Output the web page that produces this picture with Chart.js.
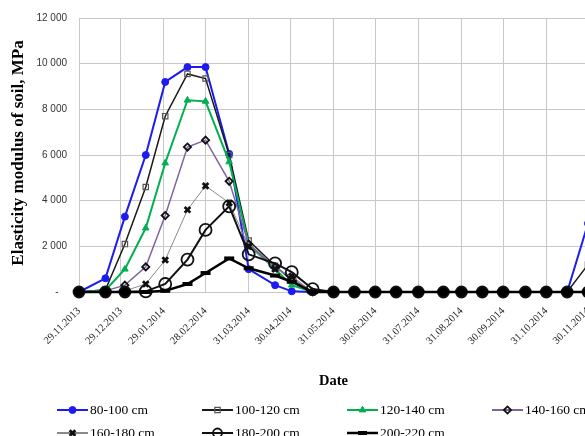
<!DOCTYPE html>
<html>
<head>
<meta charset="utf-8">
<script src="https://cdn.jsdelivr.net/npm/chart.js@4.4.1/dist/chart.umd.min.js"></script>
<style>
  html, body { margin: 0; padding: 0; background: #fff; overflow: hidden; width: 585px; height: 436px; }
  #wrap { position: relative; width: 600px; height: 436px; }
</style>
</head>
<body>
<div id="wrap"><canvas id="chart" width="600" height="436"></canvas></div>
<script>
// Sampling dates of the soil elasticity measurements
const sampleDates = [
  '29.11.2013', '18.12.2013', '01.01.2014', '16.01.2014', '30.01.2014',
  '15.02.2014', '28.02.2014', '17.03.2014', '31.03.2014', '19.04.2014',
  '01.05.2014', '16.05.2014', '31.05.2014', '15.06.2014', '30.06.2014',
  '15.07.2014', '31.07.2014', '18.08.2014', '31.08.2014', '15.09.2014',
  '30.09.2014', '16.10.2014', '31.10.2014', '15.11.2014', '30.11.2014'
];

// Date axis tick labels
const tickLabels = [
  '29.11.2013', '29.12.2013', '29.01.2014', '28.02.2014', '31.03.2014',
  '30.04.2014', '31.05.2014', '30.06.2014', '31.07.2014', '31.08.2014',
  '30.09.2014', '31.10.2014', '30.11.2014'
];

// Elasticity modulus, MPa, per depth layer
const depth80_100  = [0, 600, 3300, 6000, 9200, 9850, 9850, 6050, 1000, 300, 30, 0, 0, 0, 0, 0, 0, 0, 0, 0, 0, 0, 0, 0, 3000];
const depth100_120 = [0, 100, 2100, 4600, 7700, 9550, 9350, 6000, 2250, 1150, 500, 0, 0, 0, 0, 0, 0, 0, 0, 0, 0, 0, 0, 0, 1200];
const depth120_140 = [0, 80, 1000, 2800, 5650, 8400, 8350, 5700, 2100, 1000, 300, 0, 0, 0, 0, 0, 0, 0, 0, 0, 0, 0, 0, 0, 0];
const depth140_160 = [0, 50, 300, 1100, 3350, 6350, 6650, 4850, 2100, 1100, 600, 0, 0, 0, 0, 0, 0, 0, 0, 0, 0, 0, 0, 0, 0];
const depth160_180 = [0, 0, 50, 350, 1400, 3600, 4650, 3900, 2000, 1000, 700, 0, 0, 0, 0, 0, 0, 0, 0, 0, 0, 0, 0, 0, 0];
const depth180_200 = [0, 0, 0, 30, 350, 1420, 2720, 3750, 1650, 1250, 870, 130, 0, 0, 0, 0, 0, 0, 0, 0, 0, 0, 0, 0, 0];
const depth200_220 = [0, 0, 0, 0, 50, 350, 830, 1470, 1040, 720, 450, 0, 0, 0, 0, 0, 0, 0, 0, 0, 0, 0, 0, 0, 0];

const seriesLabels = ['80-100 cm', '100-120 cm', '120-140 cm', '140-160 cm', '160-180 cm', '180-200 cm', '200-220 cm'];
const seriesValues = [depth80_100, depth100_120, depth120_140, depth140_160, depth160_180, depth180_200, depth200_220];

// Days elapsed since the first sampling date
function dayNo(s) {
  const [d, m, y] = s.split('.').map(Number);
  return Math.round((Date.UTC(y, m - 1, d) - Date.UTC(2013, 10, 29)) / 86400000);
}
const sampleDays = sampleDates.map(dayNo);
const tickDays = tickLabels.map(dayNo);

// Line and marker look of each depth layer
const looks = [
  { color: '#1c1cf0', width: 2,   style: 'circle',   radius: 3.5, pbw: 1,   fill: '#1c1cf0', pcolor: '#1c1cf0' },
  { color: '#1a1a1a', width: 1.5, style: 'rect',     radius: 3.8, pbw: 1.2, fill: 'rgba(0,0,0,0)', pcolor: '#555555' },
  { color: '#00b050', width: 2,   style: 'triangle', radius: 3.8, pbw: 1,   fill: '#00b050', pcolor: '#00b050' },
  { color: '#8064a2', width: 1.5, style: 'rectRot',  radius: 3.6, pbw: 1.8, fill: 'rgba(0,0,0,0)', pcolor: '#111111' },
  { color: '#8a8a8a', width: 1,   style: 'crossRot', radius: 4,   pbw: 2.8, fill: '#111111', pcolor: '#111111' },
  { color: '#111111', width: 2,   style: 'circle',   radius: 6,   pbw: 1.8, fill: 'rgba(0,0,0,0)', pcolor: '#111111' },
  { color: '#000000', width: 2.5, style: 'line',     radius: 5,   pbw: 4,   fill: '#000000', pcolor: '#000000' }
];

const datasets = seriesValues.map((vals, i) => {
  const lk = looks[i];
  const ringed = lk.style === 'circle' && lk.radius > 5;
  return {
    label: seriesLabels[i],
    data: vals.map((v, k) => ({ x: sampleDays[k], y: v })),
    borderColor: lk.color,
    backgroundColor: lk.color,
    borderWidth: lk.width,
    pointStyle: lk.style,
    pointRadius: ringed ? (c) => (c.raw && c.raw.y === 0 ? 5.5 : lk.radius) : lk.radius,
    pointBorderWidth: lk.pbw,
    // stacked zero-level markers merge into a solid dark dot
    pointBackgroundColor: ringed ? (c) => (c.raw && c.raw.y === 0 ? '#000' : lk.fill) : lk.fill,
    pointBorderColor: lk.pcolor,
    tension: 0,
    clip: false,
    order: seriesValues.length - i
  };
});

const yTitle = 'Elasticity modulus of soil, MPa';

// Axis titles and the two-row legend drawn under the plot
const captionPlugin = {
  id: 'captions',
  afterDraw(chart) {
    const ctx = chart.ctx;
    const area = chart.chartArea;
    ctx.save();
    ctx.fillStyle = '#000';
    ctx.textAlign = 'center';
    ctx.textBaseline = 'middle';
    ctx.font = 'bold 14.5px "Liberation Serif"';
    ctx.fillText('Date', (area.left + area.right) / 2, 381);
    ctx.font = 'bold 17px "Liberation Serif"';
    ctx.translate(19, 153);
    ctx.rotate(-Math.PI / 2);
    ctx.fillText(yTitle, 0, 0);
    ctx.restore();

    ctx.save();
    ctx.font = '13.5px "Liberation Serif"';
    ctx.textBaseline = 'middle';
    ctx.textAlign = 'left';
    chart.data.datasets.forEach((ds, i) => {
      const lk = looks[i];
      const col = i % 4, row = Math.floor(i / 4);
      const x = 57 + col * 145;
      const y = 410 + row * 23;
      ctx.strokeStyle = lk.color;
      ctx.lineWidth = Math.max(lk.width, 2);
      ctx.beginPath();
      ctx.moveTo(x, y);
      ctx.lineTo(x + 31, y);
      ctx.stroke();
      ctx.strokeStyle = lk.pcolor;
      ctx.fillStyle = lk.fill;
      ctx.lineWidth = lk.pbw;
      Chart.helpers.drawPoint(ctx, {
        pointStyle: lk.style,
        radius: Math.min(lk.radius, 4.5),
        borderWidth: lk.pbw,
        rotation: 0
      }, x + 15.5, y);
      ctx.fillStyle = '#000';
      ctx.fillText(ds.label, x + 33, y);
    });
    ctx.restore();
  }
};

function thousands(v) {
  return String(v).replace(/\B(?=(\d{3})+(?!\d))/g, ' ');
}

new Chart(document.getElementById('chart'), {
  type: 'line',
  data: { datasets },
  plugins: [captionPlugin],
  options: {
    responsive: false,
    animation: false,
    layout: { padding: { top: 15, right: 12, bottom: 50, left: 0 } },
    plugins: { legend: { display: false }, tooltip: { enabled: false } },
    scales: {
      x: {
        type: 'linear',
        min: 0,
        max: tickDays[tickDays.length - 1],
        afterBuildTicks: (s) => { s.ticks = tickDays.map(v => ({ value: v })); },
        afterFit: (s) => { s.height = 94; s.paddingLeft = 0; s.paddingRight = 0; },
        grid: { color: '#c8c8c8', lineWidth: 1, drawTicks: false },
        border: { color: '#c8c8c8' },
        ticks: {
          autoSkip: false,
          minRotation: 45,
          maxRotation: 45,
          padding: 13,
          color: '#222',
          font: { family: 'Liberation Serif', size: 10.5 },
          callback: (v, idx) => tickLabels[idx]
        }
      },
      y: {
        min: 0,
        max: 12000,
        ticks: {
          stepSize: 2000,
          padding: 12,
          color: '#333',
          font: { family: 'Liberation Sans', size: 10 },
          callback: (v) => (v === 0 ? '-   ' : thousands(v))
        },
        afterFit: (s) => { s.width = 79; },
        grid: { color: '#c8c8c8', lineWidth: 1, drawTicks: false },
        border: { color: '#c8c8c8' }
      }
    }
  }
});
</script>
</body>
</html>
